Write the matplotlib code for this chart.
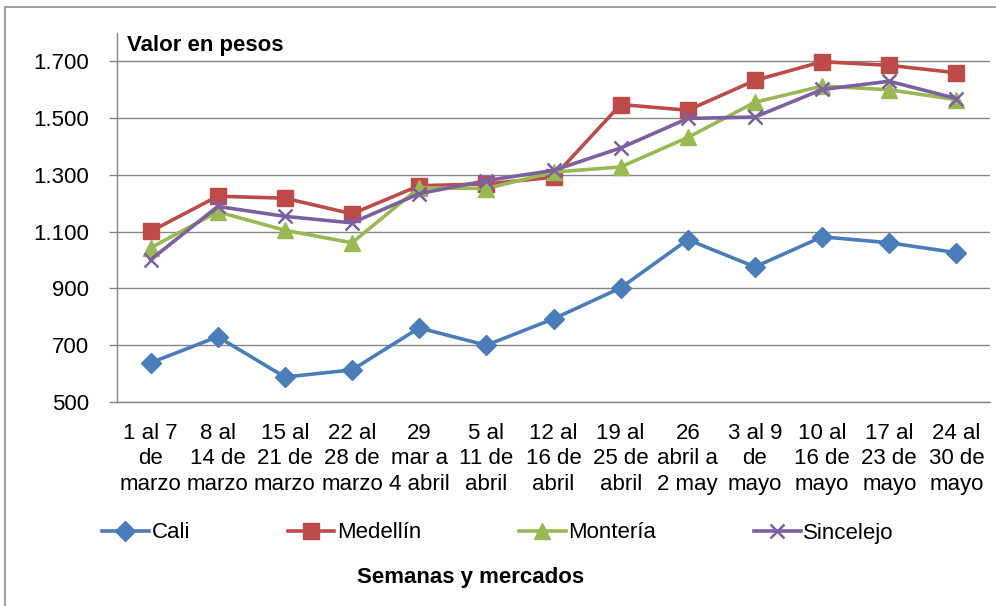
import matplotlib.pyplot as plt
from matplotlib.ticker import FuncFormatter
from matplotlib.patches import Rectangle

plt.rcParams['font.family'] = ['Liberation Sans', 'DejaVu Sans']

# Weeks (x categories)
semanas = ["1 al 7\nde\nmarzo", "8 al\n14 de\nmarzo", "15 al\n21 de\nmarzo",
           "22 al\n28 de\nmarzo", "29\nmar a\n4 abril", "5 al\n11 de\nabril",
           "12 al\n16 de\nabril", "19 al\n25 de\nabril", "26\nabril a\n2 may",
           "3 al 9\nde\nmayo", "10 al\n16 de\nmayo", "17 al\n23 de\nmayo",
           "24 al\n30 de\nmayo"]

# Prices per market (pesos)
cali = [638, 730, 588, 613, 761, 700, 793, 902, 1072, 976, 1082, 1061, 1026]
medellin = [1101, 1225, 1218, 1163, 1262, 1268, 1292, 1548, 1528, 1633, 1699, 1686, 1660]
monteria = [1043, 1170, 1105, 1061, 1255, 1252, 1310, 1328, 1432, 1556, 1613, 1600, 1565]
sincelejo = [1001, 1189, 1154, 1131, 1234, 1280, 1316, 1395, 1499, 1504, 1601, 1630, 1569]

series = [
    ("Cali", cali, "#4A7EBB", "D", 10),
    ("Medellín", medellin, "#BE4B48", "s", 11.5),
    ("Montería", monteria, "#98B954", "^", 11.5),
    ("Sincelejo", sincelejo, "#7D60A0", "x", 10),
]

W, H = 996, 606
FS = 16
fig = plt.figure(figsize=(W / 100, H / 100), dpi=100)

# outer chart border
fig.patches.append(Rectangle((5 / W, -0.1), 1.2, 1 - 7 / H + 0.1, transform=fig.transFigure,
                             fill=False, edgecolor="#8c8c8c", linewidth=1.2))

ax = fig.add_axes([117 / W, 1 - 402 / H, (990 - 117) / W, (402 - 33) / H])

x = range(len(semanas))
for name, vals, color, marker, ms in series:
    ax.plot(x, vals, color=color, linewidth=2.6, marker=marker, markersize=ms,
            markeredgewidth=1.8 if marker == "x" else 1, markeredgecolor=color,
            label=name)

ax.set_xlim(-0.5, len(semanas) - 0.5)
ax.set_ylim(500, 1800)
ax.set_yticks(range(500, 1800, 200))
ax.yaxis.set_major_formatter(FuncFormatter(lambda v, p: f"{int(v):,}".replace(",", ".")))
ax.set_xticks(list(x))
ax.set_xticklabels(semanas, fontsize=FS, linespacing=1.28)
ax.tick_params(axis="x", length=0, pad=15)
ax.tick_params(axis="y", length=6, width=1, color="#868686", pad=14, labelsize=FS)

ax.grid(axis="y", color="#868686", linewidth=1)
ax.set_axisbelow(True)
for s in ["top", "right"]:
    ax.spines[s].set_visible(False)
for s in ["left", "bottom"]:
    ax.spines[s].set_color("#868686")
    ax.spines[s].set_linewidth(1)

ax.text(0.012, 0.995, "Valor en pesos", transform=ax.transAxes, fontsize=FS,
        fontweight="bold", ha="left", va="top")

fig.legend(loc="center", bbox_to_anchor=(498 / W, 1 - 533 / H), ncol=4, frameon=False,
           fontsize=FS, handlelength=2.1, handletextpad=0.12, columnspacing=4.4)

fig.text(471 / W, 1 - 578 / H, "Semanas y mercados", fontsize=FS, fontweight="bold",
         ha="center", va="center")

fig.savefig("out.png", dpi=100)
